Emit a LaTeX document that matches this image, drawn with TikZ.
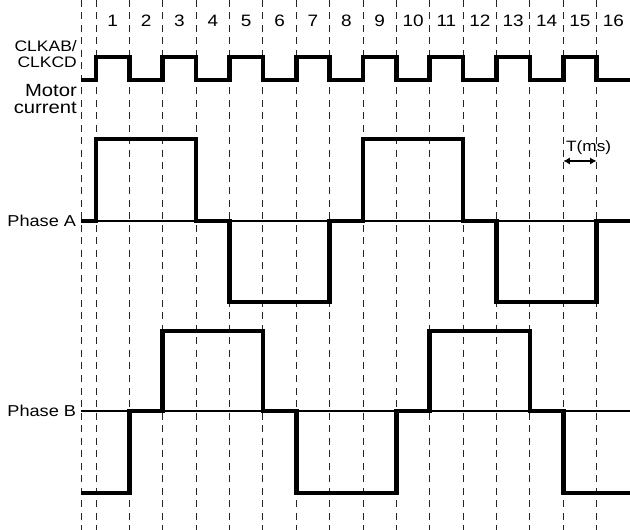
\documentclass[tikz,border=0pt]{standalone}
\usepackage{fontspec}
\setmainfont{Liberation Sans}[FakeStretch=1.15]
\usepackage{tikz}
\usetikzlibrary{positioning,calc,arrows.meta}

\begin{document}
\begin{tikzpicture}[
	x=33.375bp, y=-1bp,
	every node/.style={inner sep=0pt},
	grid_line/.style={
		draw=black!85, line width=0.9bp,
		dash pattern=on 7bp off 5.5bp
	},
	wave/.style={
		draw=black, line width=4.6bp
	},
	zero_line/.style={
		draw=black, line width=1.2bp
	},
	num_label/.style={font=\fontsize{16.5bp}{18bp}\selectfont, anchor=base},
	clk_label/.style={font=\fontsize{15.2bp}{17bp}\selectfont, anchor=base east},
	mot_label/.style={font=\fontsize{17.6bp}{19bp}\selectfont, anchor=base east},
	phase_label/.style={font=\fontsize{15.8bp}{17bp}\selectfont, anchor=base east},
	t_arrow/.style={
		<->, >={Latex[length=6.5bp,width=7bp]},
		line width=1.6bp
	}
	]
	\useasboundingbox (-2.8764,0) rectangle (16,530);

	% --- 1. DASHED TIME GRID ---
	\draw[grid_line] (-0.449,0) -- (-0.449,530);
	\foreach \k in {0,...,16}
		\draw[grid_line] (\k,0) -- (\k,530);

	% --- 2. SLOT NUMBERS ---
	\foreach \k in {1,...,16}
		\node[num_label] (n\k) at (\k-0.5,27) {\k};

	% --- 3. LEFT LABELS ---
	\node[clk_label] (clkab) at (-0.57,52) {CLKAB/};
	\node[clk_label] (clkcd) at (-0.57,68) {CLKCD};
	\node[mot_label] (motor) at (-0.57,97) {Motor};
	\node[mot_label] (current) at (-0.57,114) {current};
	\node[phase_label] (phA) at (-0.59,227) {Phase A};
	\node[phase_label] (phB) at (-0.59,417) {Phase B};

	% --- 4. CLOCK ---
	\draw[wave] (-0.449,80)
		\foreach \k in {0,2,...,14} { -- (\k,80) -- (\k,57) -- (\k+1,57) -- (\k+1,80) }
		-- (16,80);

	% --- 5. PHASE A ---
	\draw[zero_line] (-0.449,221) -- (16,221);
	\draw[wave] (-0.449,221) -- (0,221) -- (0,139) -- (3,139) -- (3,221)
		-- (4,221) -- (4,302) -- (7,302) -- (7,221) -- (8,221) -- (8,139)
		-- (11,139) -- (11,221) -- (12,221) -- (12,302) -- (15,302)
		-- (15,221) -- (16,221);

	% --- 6. PHASE B ---
	\draw[zero_line] (-0.449,411) -- (16,411);
	\draw[wave] (-0.449,493) -- (1,493) -- (1,411) -- (2,411) -- (2,331)
		-- (5,331) -- (5,411) -- (6,411) -- (6,493) -- (9,493) -- (9,411)
		-- (10,411) -- (10,331) -- (13,331) -- (13,411) -- (14,411)
		-- (14,493) -- (16,493);

	% --- 7. PERIOD T ---
	\coordinate (T_start) at (14,161);
	\coordinate (T_end) at (15,161);
	\draw[t_arrow] (T_start) -- (T_end);
	\node[font=\fontsize{15bp}{16bp}\selectfont, anchor=base west] (T_lbl) at (14.08,152) {T(ms)};

\end{tikzpicture}
\end{document}
